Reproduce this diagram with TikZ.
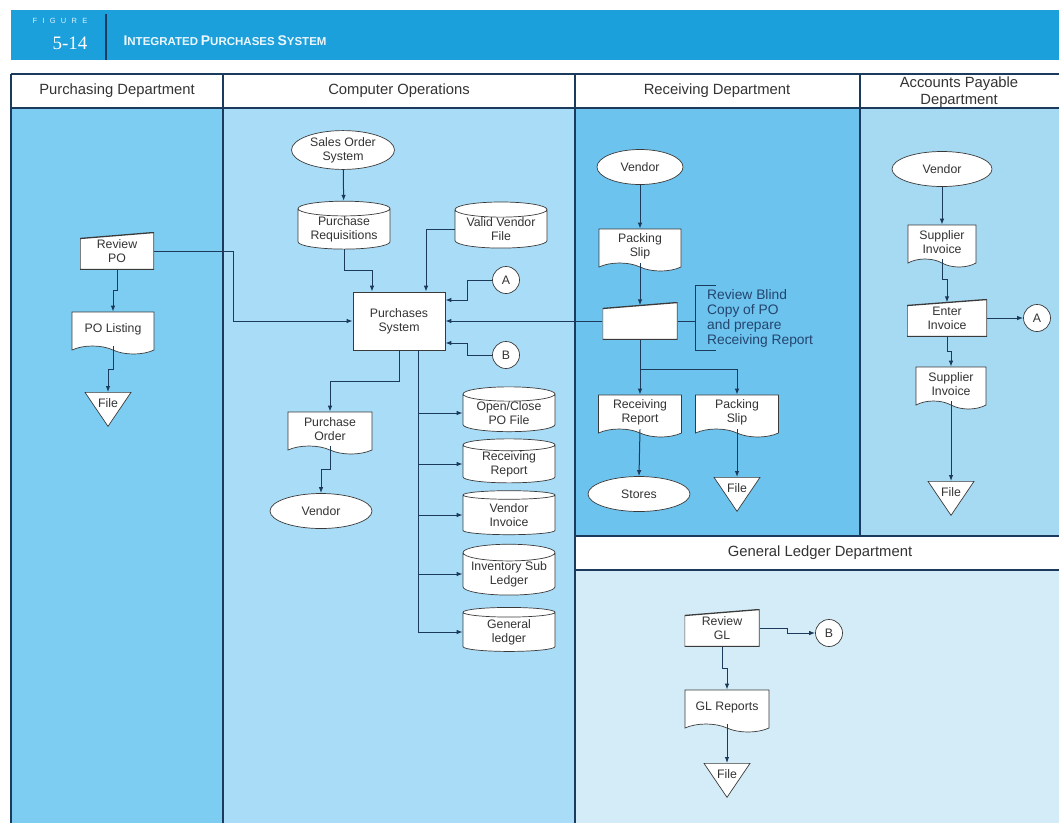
\documentclass[tikz,border=0pt]{standalone}
\usepackage{fontspec}
\setmainfont{Liberation Sans}
\newfontfamily\numfont{Liberation Serif}
\usetikzlibrary{shapes.geometric,shapes.symbols,arrows.meta,calc}
\definecolor{barblue}{HTML}{1BA0DC}
\definecolor{navy}{HTML}{1B3A5C}
\definecolor{edgec}{HTML}{3A3A3A}
\definecolor{txtc}{HTML}{333333}
\definecolor{purlane}{HTML}{7DCDF2}
\definecolor{colane}{HTML}{A9DCF6}
\definecolor{reclane}{HTML}{6CC3EE}
\definecolor{aplane}{HTML}{A6D9F2}
\definecolor{gllane}{HTML}{D4ECF8}
\definecolor{notec}{HTML}{23456E}
\newcommand\nodefont{\fontsize{12.3}{14}\selectfont}
\newcommand\headfont{\fontsize{14.8}{16.5}\selectfont}
\newcommand\scword[2]{{\fontsize{14}{14}\selectfont #1}{\fontsize{11.5}{14}\selectfont #2}}
\tikzset{
  lane/.style={draw=navy, line width=1.1pt},
  flow/.style={draw=navy, line width=1pt, -{Latex[length=6pt,width=4.5pt]}},
  ln/.style={draw=navy, line width=1pt},
  box/.style={draw=edgec, line width=0.7pt, fill=white, text=txtc, align=center, font=\nodefont, inner sep=1pt},
  proc/.style={box, rectangle, minimum width=92pt, minimum height=58pt},
  doc/.style={box, tape, tape bend top=none, tape bend bottom=out and in, tape bend height=8pt, minimum width=#1, minimum height=42pt},
  doc/.default=82pt,
  store/.style={box, cylinder, shape border rotate=90, aspect=0.22, inner sep=0pt, minimum width=92pt, minimum height=44pt},
  term/.style={box, ellipse, minimum width=#1, minimum height=35pt},
  term/.default=100pt,
  conn/.style={box, circle, minimum size=27pt, inner sep=0pt},
  filetri/.style={box, isosceles triangle, shape border rotate=-90, isosceles triangle stretches, minimum width=46pt, minimum height=34pt, inner sep=0pt, anchor=lower side},
  manin/.style={align=center, text=txtc, font=\nodefont, minimum width=#1, minimum height=37pt, inner sep=1pt,
    path picture={\filldraw[fill=white, draw=edgec, line width=1.3pt] (path picture bounding box.south west) -- ([yshift=-6pt]path picture bounding box.north west) -- (path picture bounding box.north east) -- (path picture bounding box.south east) -- cycle;}},
  manin/.default=75pt,
  zig/.style={to path={|- ($(\tikztostart)!.5!(\tikztotarget)$) -| (\tikztotarget)}},
  zag/.style={to path={-| ($(\tikztostart)!.5!(\tikztotarget)$) |- (\tikztotarget)}}
}
\newcommand\filetxt{\raisebox{-8pt}[0pt][0pt]{File}}
\begin{document}
\begin{tikzpicture}[x=1pt,y=-1pt]
\useasboundingbox (0,0) rectangle (1059,823);
\fill[white] (0,0) rectangle (1059,823);
\fill[barblue] (11,10) rectangle (1059,60);
\draw[navy, line width=2pt] (106,14) -- (106,60);
\node[text=white!85!barblue, font=\fontsize{7.5}{8}\selectfont\addfontfeatures{LetterSpace=70}] (figword) at (60,21) {FIGURE};
\node[text=white, font=\numfont\fontsize{19}{20}\selectfont] (fignum) at (70,43) {5-14};
\node[text=white!92!barblue, font=\bfseries, anchor=west] (title) at (120,41) {\scword{I}{NTEGRATED} \scword{P}{URCHASES} \scword{S}{YSTEM}};
\fill[purlane] (11,108) rectangle (223,823);
\fill[colane] (223,108) rectangle (575,823);
\fill[reclane] (575,108) rectangle (860,536);
\fill[aplane] (860,108) rectangle (1059,536);
\fill[gllane] (575,570) rectangle (1059,823);
\draw[lane] (11,74) -- (1059,74) (11,108) -- (1059,108) (11,74) -- (11,823) (223,74) -- (223,823) (575,74) -- (575,823)
  (860,74) -- (860,536) (575,536) -- (1059,536) (575,570) -- (1059,570);
\node[text=txtc, font=\headfont] (hpur) at (117,91) {Purchasing Department};
\node[text=txtc, font=\headfont] (hco) at (399,91) {Computer Operations};
\node[text=txtc, font=\headfont] (hrec) at (717,91) {Receiving Department};
\node[text=txtc, font=\headfont, align=center] (hap) at (959,92) {Accounts Payable\\Department};
\node[text=txtc, font=\headfont] (hgl) at (820,553) {General Ledger Department};

\node[manin=74pt] (rvwPO) at (117,251) {Review\\PO};
\node[doc] (poList) at (113,329) {PO Listing};
\node[filetri] (fileP) at (108,392) {\filetxt};
\draw[flow] (rvwPO.south) to[zig] (poList.north);
\draw[flow] (poList.south) to[zig] (fileP.lower side);

\node[term=103pt] (sos) at (343,150) {Sales Order\\System};
\node[store] (preq) at (344,229) {Purchase\\Requisitions};
\node[store] (vvf) at (501,229) {Valid Vendor\\File};
\node[conn] (cA1) at (506,280) {A};
\node[proc] (psys) at (399,321) {Purchases\\System};
\node[conn] (cB1) at (506,355) {B};
\node[doc=84pt] (pord) at (330,429) {Purchase\\Order};
\node[term=102pt] (vend1) at (321,511) {Vendor};
\node[store] (opf) at (509,413) {Open/Close\\PO File};
\node[store] (rrpt) at (509,464) {Receiving\\Report};
\node[store] (vinv) at (509,515) {Vendor\\Invoice};
\node[store] (isl) at (509,574) {Inventory Sub\\Ledger};
\node[store] (glF) at (509,632) {General\\ledger};
\coordinate (trunk) at ([xshift=19pt]psys.south);
\draw[flow] (sos) -- (preq);
\draw[flow] (preq.south) to[zig] ([xshift=-27pt]psys.north);
\draw[flow] (vvf.west) -| ([xshift=27pt]psys.north);
\draw[flow] (cA1.west) -- ++(-25,0) |- ([yshift=21pt]psys.east);
\draw[flow] (cB1.west) -- ++(-25,0) |- ([yshift=-22pt]psys.east);
\draw[flow] (rvwPO.east) -- ++(79,0) |- (psys.west);
\draw[flow] (psys.south) to[zig] (pord.north);
\draw[flow] (pord.south) to[zig] (vend1.north);
\draw[flow] (trunk) |- (glF.west);
\foreach \s in {opf,rrpt,vinv,isl} \draw[flow] (trunk |- \s.west) -- (\s.west);

\node[term=86pt] (vend2) at (640,167) {Vendor};
\node[doc] (ps1) at (640,246) {Packing\\Slip};
\node[manin] (rcvBox) at (640,321) {};
\node[text=notec, font=\fontsize{13.8}{15}\selectfont, align=left, anchor=west, inner xsep=0pt, inner ysep=3pt] (note) at (707,318) {Review Blind\\Copy of PO\\and prepare\\Receiving Report};
\node[doc=83pt] (rr) at (640,412) {Receiving\\Report};
\node[doc=83pt] (ps2) at (737,412) {Packing\\Slip};
\node[term=102pt] (stores) at (639,494) {Stores};
\node[filetri] (fileR) at (737,477) {\filetxt};
\coordinate (brk) at ([xshift=-12pt]note.west);
\draw[flow] (vend2) -- (ps1);
\draw[flow, shorten >=-3pt] (ps1.south) to[zig] (rcvBox.north);
\draw[ln] (rcvBox.east) -- (rcvBox.east -| brk);
\draw[ln] ([xshift=9pt]note.north west) -| (brk) |- ([xshift=9pt]note.south west);
\draw[flow] (rcvBox.west) -- (psys.east);
\draw[flow] (rcvBox.south) -- (rr.north);
\draw[flow] ([yshift=-30pt]rcvBox.south) -| (ps2.north);
\draw[flow] (rr.south) -- (stores.north);
\draw[flow] (ps2.south) -- (fileR.lower side);

\node[term] (vend3) at (942,169) {Vendor};
\node[doc=68pt] (si1) at (942,242) {Supplier\\Invoice};
\node[manin=80pt] (entInv) at (947,318) {Enter\\Invoice};
\node[conn] (cA2) at (1037,318) {A};
\node[doc=70pt] (si2) at (951,384) {Supplier\\Invoice};
\node[filetri] (fileA) at (951,481) {\filetxt};
\draw[flow] (vend3) -- (si1);
\draw[flow, shorten >=-3pt] (si1.south) to[zig] (entInv.north);
\draw[flow] (entInv.east) -- (cA2.west);
\draw[flow] (entInv.south) to[zig] (si2.north);
\draw[flow] (si2.south) -- (fileA.lower side);

\node[manin] (rvwGL) at (722,628) {Review\\GL};
\node[conn] (cB2) at (829,633) {B};
\node[doc=84pt] (glRep) at (727,707) {GL Reports};
\node[filetri] (fileG) at (727,763) {\filetxt};
\draw[flow] (rvwGL.east) to[zag] (cB2.west);
\draw[flow] (rvwGL.south) to[zig] (glRep.north);
\draw[flow] (glRep.south) -- (fileG.lower side);
\end{tikzpicture}
\end{document}
